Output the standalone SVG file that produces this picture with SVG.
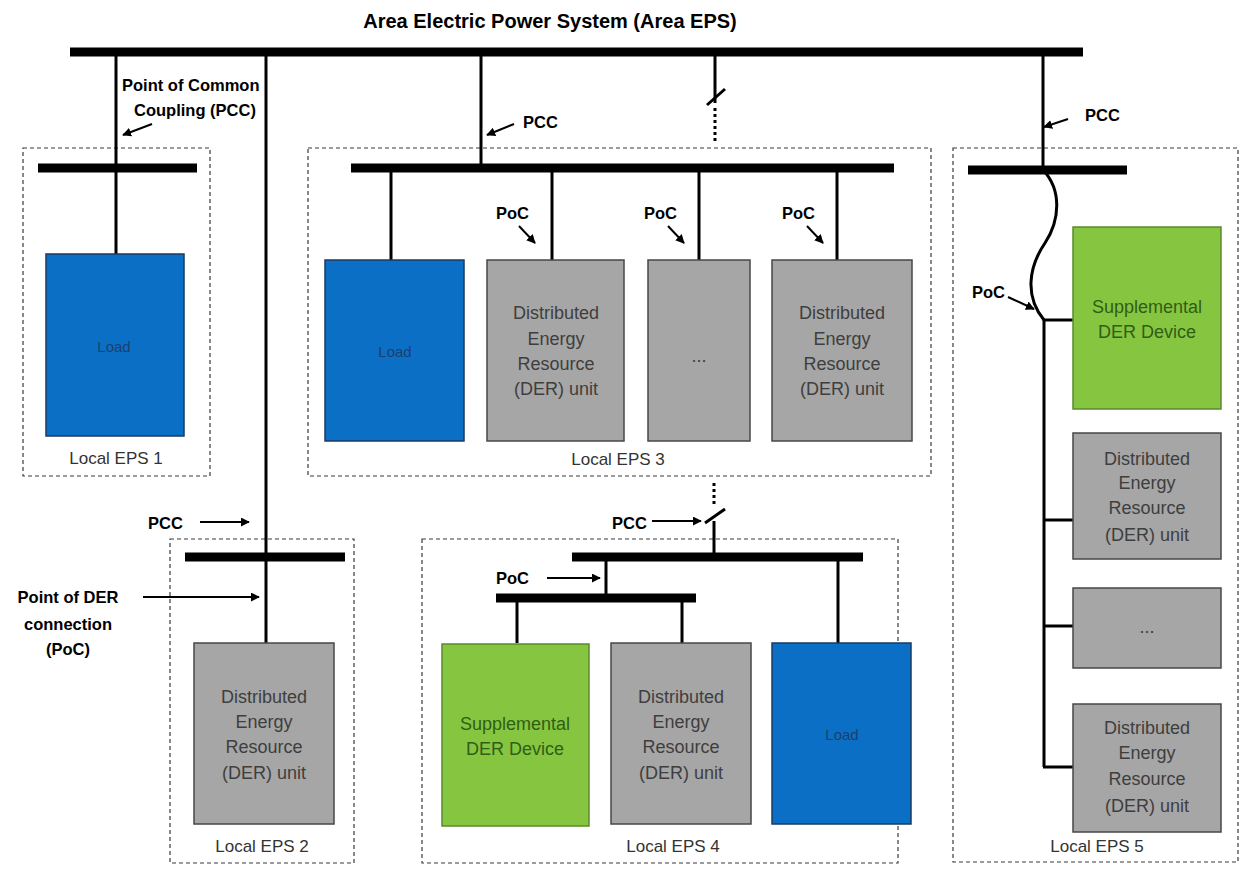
<svg xmlns="http://www.w3.org/2000/svg" width="1243" height="871" viewBox="0 0 1243 871">
<defs>
<style>
.frame{fill:none;stroke:#3a3a3a;stroke-width:1.2;stroke-dasharray:4 3}
.bus{stroke:#000;stroke-width:9;fill:none}
.ln{stroke:#000;stroke-width:3;fill:none}
.dot{stroke:#000;stroke-width:3;fill:none;stroke-dasharray:3 3}
.arr{stroke:#000;stroke-width:2;fill:none;marker-end:url(#ah)}
.load rect{fill:#0b6fc6;stroke:#1d3b60;stroke-width:1.5}
.der rect{fill:#a6a6a6;stroke:#474747;stroke-width:1.5}
.sup rect{fill:#86c540;stroke:#5a8a2a;stroke-width:1.5}
text{font-family:"Liberation Sans",Arial,sans-serif}
.load text{fill:#1d3f6e;font-size:15px;text-anchor:middle}
.der text{fill:#3e3e3e;font-size:18px;text-anchor:middle}
.sup text{fill:#2f5e16;font-size:18px;text-anchor:middle}
.lbl{fill:#000;font-size:16.5px;font-weight:bold}
.eps{fill:#333;font-size:17px;text-anchor:middle}
</style>
<marker id="ah" viewBox="0 0 10 10" refX="9" refY="5" markerWidth="9" markerHeight="9" markerUnits="userSpaceOnUse" orient="auto">
<path d="M0,0 L10,5 L0,10 z" fill="#000"/>
</marker>
</defs>
<rect width="1243" height="871" fill="#fff"/>

<text x="550" y="28" font-size="20" font-weight="bold" text-anchor="middle" fill="#000">Area Electric Power System (Area EPS)</text>

<!-- Local EPS frames -->
<g id="eps1"><rect class="frame" x="23" y="148" width="187" height="328"/><text class="eps" x="116" y="464">Local EPS 1</text></g>
<g id="eps2"><rect class="frame" x="170" y="539" width="184" height="324"/><text class="eps" x="262" y="852">Local EPS 2</text></g>
<g id="eps3"><rect class="frame" x="308" y="148" width="623" height="328"/><text class="eps" x="618" y="465">Local EPS 3</text></g>
<g id="eps4"><rect class="frame" x="422" y="539" width="476" height="324"/><text class="eps" x="673" y="852">Local EPS 4</text></g>
<g id="eps5"><rect class="frame" x="953" y="148" width="285" height="714"/><text class="eps" x="1097" y="852">Local EPS 5</text></g>

<!-- connectors -->
<g id="connectors">
<line class="ln" x1="116" y1="52" x2="116" y2="254"/>
<line class="ln" x1="266" y1="52" x2="266" y2="643"/>
<line class="ln" x1="481" y1="52" x2="481" y2="168"/>
<line class="ln" x1="715" y1="52" x2="715" y2="103"/>
<line class="ln" x1="707" y1="105" x2="725" y2="89"/>
<line class="dot" x1="715" y1="108" x2="715" y2="144"/>
<line class="ln" x1="1043" y1="52" x2="1043" y2="170"/>
<path class="ln" d="M1043,170 C1062,190 1060,220 1045,243 C1028,268 1025,297 1044,320"/>
<line class="ln" x1="1044" y1="320" x2="1044" y2="767"/>
<line class="ln" x1="1043" y1="320" x2="1073" y2="320"/>
<line class="ln" x1="1043" y1="520" x2="1073" y2="520"/>
<line class="ln" x1="1043" y1="626" x2="1073" y2="626"/>
<line class="ln" x1="1043" y1="767" x2="1073" y2="767"/>
<line class="ln" x1="391" y1="168" x2="391" y2="260"/>
<line class="ln" x1="552" y1="168" x2="552" y2="260"/>
<line class="ln" x1="699" y1="168" x2="699" y2="260"/>
<line class="ln" x1="837" y1="168" x2="837" y2="260"/>
<line class="dot" x1="714" y1="483" x2="714" y2="506"/>
<line class="ln" x1="705" y1="523" x2="725" y2="509"/>
<line class="ln" x1="714" y1="521" x2="714" y2="557"/>
<line class="ln" x1="606" y1="557" x2="606" y2="598"/>
<line class="ln" x1="517" y1="598" x2="517" y2="643"/>
<line class="ln" x1="682" y1="598" x2="682" y2="643"/>
<line class="ln" x1="838" y1="557" x2="838" y2="643"/>
<!-- pointer arrows -->
<line class="arr" x1="152" y1="124" x2="123" y2="135"/>
<line class="arr" x1="514" y1="124" x2="487" y2="135"/>
<line class="arr" x1="1068" y1="119" x2="1044" y2="127"/>
<line class="arr" x1="519" y1="226" x2="535" y2="243"/>
<line class="arr" x1="668" y1="226" x2="684" y2="243"/>
<line class="arr" x1="807" y1="226" x2="823" y2="243"/>
<line class="arr" x1="1008" y1="297" x2="1034" y2="309"/>
<line class="arr" x1="200" y1="522" x2="249" y2="522"/>
<line class="arr" x1="143" y1="597" x2="259" y2="597"/>
<line class="arr" x1="652" y1="521" x2="701" y2="521"/>
<line class="arr" x1="547" y1="578" x2="600" y2="578"/>
</g>

<!-- buses -->
<g id="buses">
<line class="bus" x1="70" y1="52" x2="1083" y2="52"/>
<line class="bus" x1="38" y1="168" x2="197" y2="168"/>
<line class="bus" x1="351" y1="168" x2="894" y2="168"/>
<line class="bus" x1="968" y1="170" x2="1127" y2="170"/>
<line class="bus" x1="185" y1="557" x2="345" y2="557"/>
<line class="bus" x1="572" y1="557" x2="863" y2="557"/>
<line class="bus" x1="496" y1="598" x2="696" y2="598"/>
</g>

<!-- labels -->
<g id="labels">
<text class="lbl" x="122" y="91">Point of Common</text>
<text class="lbl" x="134" y="116">Coupling (PCC)</text>
<text class="lbl" x="523" y="128">PCC</text>
<text class="lbl" x="1085" y="121">PCC</text>
<text class="lbl" x="496" y="219">PoC</text>
<text class="lbl" x="644" y="219">PoC</text>
<text class="lbl" x="782" y="219">PoC</text>
<text class="lbl" x="972" y="298">PoC</text>
<text class="lbl" x="148" y="529">PCC</text>
<text class="lbl" x="612" y="529">PCC</text>
<text class="lbl" x="496" y="584">PoC</text>
<text class="lbl" x="68" y="603" text-anchor="middle">Point of DER</text>
<text class="lbl" x="68" y="630" text-anchor="middle">connection</text>
<text class="lbl" x="68" y="655" text-anchor="middle">(PoC)</text>
</g>

<!-- nodes -->
<g id="load1" class="load"><rect x="46" y="254" width="138" height="182"/><text x="114" y="352">Load</text></g>
<g id="load3" class="load"><rect x="325" y="260" width="139" height="181"/><text x="395" y="357">Load</text></g>
<g id="der3a" class="der"><rect x="487" y="260" width="137" height="181"/><text x="556" y="319">Distributed</text><text x="556" y="345">Energy</text><text x="556" y="370">Resource</text><text x="556" y="395">(DER) unit</text></g>
<g id="der3b" class="der"><rect x="648" y="260" width="102" height="181"/><text x="699" y="362">...</text></g>
<g id="der3c" class="der"><rect x="772" y="260" width="140" height="181"/><text x="842" y="319">Distributed</text><text x="842" y="345">Energy</text><text x="842" y="370">Resource</text><text x="842" y="395">(DER) unit</text></g>
<g id="der2" class="der"><rect x="194" y="643" width="140" height="181"/><text x="264" y="703">Distributed</text><text x="264" y="728">Energy</text><text x="264" y="753">Resource</text><text x="264" y="779">(DER) unit</text></g>
<g id="sup4" class="sup"><rect x="442" y="644" width="147" height="182"/><text x="515" y="730">Supplemental</text><text x="515" y="755">DER Device</text></g>
<g id="der4" class="der"><rect x="611" y="643" width="140" height="181"/><text x="681" y="703">Distributed</text><text x="681" y="728">Energy</text><text x="681" y="753">Resource</text><text x="681" y="779">(DER) unit</text></g>
<g id="load4" class="load"><rect x="772" y="643" width="139" height="181"/><text x="842" y="740">Load</text></g>
<g id="sup5" class="sup"><rect x="1073" y="227" width="148" height="182"/><text x="1147" y="313">Supplemental</text><text x="1147" y="338">DER Device</text></g>
<g id="der5a" class="der"><rect x="1073" y="433" width="148" height="126"/><text x="1147" y="465">Distributed</text><text x="1147" y="489">Energy</text><text x="1147" y="514">Resource</text><text x="1147" y="541">(DER) unit</text></g>
<g id="der5b" class="der"><rect x="1073" y="588" width="148" height="80"/><text x="1147" y="633">...</text></g>
<g id="der5c" class="der"><rect x="1073" y="704" width="148" height="128"/><text x="1147" y="734">Distributed</text><text x="1147" y="759">Energy</text><text x="1147" y="785">Resource</text><text x="1147" y="812">(DER) unit</text></g>
</svg>
